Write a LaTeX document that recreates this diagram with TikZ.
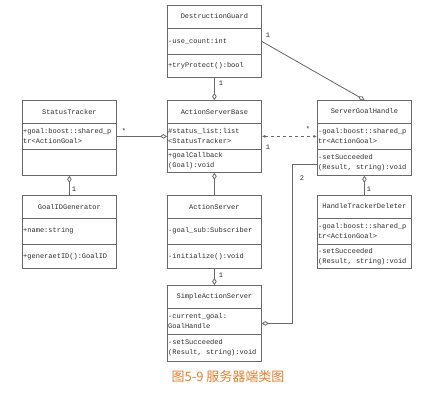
\documentclass[tikz,border=0pt]{standalone}
\usepackage{fontspec}
\setmonofont{Liberation Mono}
\newfontfamily\cjkfont{Noto Sans CJK SC}
\usetikzlibrary{arrows.meta,calc}
\definecolor{boxgray}{RGB}{105,105,105}
\definecolor{textgray}{RGB}{45,45,45}
\definecolor{captionorange}{RGB}{232,128,45}
\tikzset{
    classbox/.style={draw=boxgray, line width=0.8pt, anchor=north west,
    	minimum width=94pt, inner sep=0pt, fill=white},
    sep/.style={draw=boxgray, line width=0.8pt},
    classname/.style={font=\ttfamily\fontsize{7}{9}\selectfont, text=textgray, inner sep=0pt},
    members/.style={font=\ttfamily\fontsize{7}{10}\selectfont, text=textgray, anchor=west,
    	align=left, inner sep=1pt},
    mult/.style={font=\ttfamily\fontsize{7}{9}\selectfont, text=textgray, inner sep=0pt}
}
\tikzset{
    assoc/.style={draw=boxgray, line width=0.8pt,
    	-{Diamond[open, fill=white, length=7pt, width=4.5pt]}},
    depend/.style={draw=boxgray, line width=0.8pt, dashed,
    	{Latex[length=3.5pt, width=3pt]}-{Latex[length=3.5pt, width=3pt]}}
}
% #1 name, #2 top left corner, #3 height, #4 title, #5 attributes, #6 methods
\newcommand{\umlclass}[6]{%
	\node[classbox, minimum height=#3] (#1) at #2 {};
	\draw[sep] ([yshift=-23pt]#1.north west) -- ([yshift=-23pt]#1.north east);
	\draw[sep] ([yshift=-49pt]#1.north west) -- ([yshift=-49pt]#1.north east);
	\node[classname] (#1-name) at ([yshift=-11.5pt]#1.north) {#4};
	\node[members] (#1-attr) at ([yshift=-36pt]#1.north west) {#5};
	\node[members] (#1-meth) at ($([yshift=-49pt]#1.north west)!0.5!(#1.south west)$) {#6};
}

\begin{document}
\begin{tikzpicture}[x=1pt, y=-1pt]
	\useasboundingbox[fill=white] (0,0) rectangle (429,400);

	\umlclass{guard}{(167,5)}{72pt}{DestructionGuard}{-use\_count:int}{+tryProtect():bool}
	\umlclass{tracker}{(22,100)}{75pt}{StatusTracker}{+goal:boost::shared\_p\\tr<ActionGoal>}{}
	\umlclass{base}{(167,100)}{72pt}{ActionServerBase}{\#status\_list:list\\<StatusTracker>}{+goalCallback\\(Goal):void}
	\umlclass{handle}{(317,100)}{75pt}{ServerGoalHandle}{-goal:boost::shared\_p\\tr<ActionGoal>}{-setSucceeded\\(Result, string):void}
	\umlclass{idgen}{(22,195)}{73pt}{GoalIDGenerator}{+name:string}{+generaetID():GoalID}
	\umlclass{server}{(167,195)}{73pt}{ActionServer}{-goal\_sub:Subscriber}{-initialize():void}
	\umlclass{deleter}{(317,195)}{73pt}{HandleTrackerDeleter}{-goal:boost::shared\_p\\tr<ActionGoal>}{-setSucceeded\\(Result, string):void}
	\umlclass{simple}{(167,285)}{76pt}{SimpleActionServer}{-current\_goal:\\GoalHandle}{-setSucceeded\\(Result, string):void}

	\draw[assoc] (guard.south) -- (base.north);
	\draw[assoc] (guard.east) -- (handle.north);
	\draw[assoc] (base.west -| tracker.east) -- (base.west);
	\draw[depend] (base.east) -- (base.east -| handle.west);
	\draw[assoc] (idgen.north) -- (tracker.south);
	\draw[assoc] (server.north) -- (base.south);
	\draw[assoc] (server.south) -- (simple.north);
	\draw[assoc] (deleter.north) -- (handle.south);
	\draw[assoc] ([yshift=11pt]handle.south west) -- ++(-25,0) |- (simple.east);

	\node[mult] (m1) at (221,83) {1};
	\node[mult] (m2) at (268,35) {1};
	\node[mult] (m3) at (124,131) {*};
	\node[mult] (m4) at (268,147) {1};
	\node[mult] (m5) at (308,129) {*};
	\node[mult] (m6) at (74,189) {1};
	\node[mult] (m7) at (221,275) {1};
	\node[mult] (m8) at (369,189) {1};
	\node[mult] (m9) at (302,178) {2};

	\node[font=\cjkfont\fontsize{13}{15}\selectfont, text=captionorange] (caption)
		at (228,377) {图5-9 服务器端类图};
\end{tikzpicture}
\end{document}
